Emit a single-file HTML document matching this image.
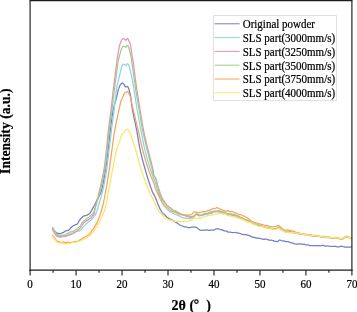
<!DOCTYPE html>
<html><head><meta charset="utf-8"><title>XRD</title>
<style>
html,body{margin:0;padding:0;background:#fff;}
body{width:357px;height:312px;overflow:hidden;}
svg{display:block;font-family:"Liberation Serif",serif;will-change:transform;}
</style></head><body>
<svg width="357" height="312" viewBox="0 0 357 312">
<rect x="0" y="0" width="357" height="312" fill="#ffffff"/>
<path d="M52.50,227.97 L52.82,228.43 L53.27,229.16 L53.80,230.00 L54.39,230.78 L55.00,231.46 L55.64,231.95 L56.34,232.38 L57.08,233.03 L57.84,233.42 L58.60,233.43 L59.39,233.53 L60.20,233.57 L61.03,233.36 L61.84,232.99 L62.60,232.71 L63.30,232.53 L63.97,232.14 L64.61,231.53 L65.24,231.03 L65.90,230.84 L66.75,230.53 L67.60,230.34 L68.45,230.29 L69.30,229.63 L69.85,228.99 L70.37,228.40 L70.90,227.80 L71.44,227.28 L72.00,226.68 L72.60,226.15 L73.28,225.80 L74.03,225.37 L74.80,225.03 L75.55,224.65 L76.23,224.38 L76.80,224.31 L77.37,224.01 L77.73,223.44 L78.05,222.77 L78.50,222.03 L78.92,221.44 L79.40,220.72 L79.92,219.91 L80.44,219.08 L80.94,218.42 L81.40,218.04 L81.99,217.46 L82.51,216.76 L83.02,216.24 L83.60,216.06 L84.27,215.83 L85.00,215.66 L85.73,215.65 L86.40,215.47 L87.21,214.96 L87.95,214.43 L88.60,214.07 L89.25,213.86 L90.00,213.07 L90.33,212.49 L90.70,211.86 L91.10,211.33 L91.53,210.69 L91.99,209.83 L92.48,208.89 L93.00,207.91 L93.32,207.32 L93.67,206.68 L94.03,206.01 L94.40,205.32 L94.79,204.55 L95.18,203.77 L95.58,203.03 L95.97,202.22 L96.37,201.37 L96.76,200.57 L97.13,199.79 L97.50,198.98 L97.89,198.17 L98.27,197.52 L98.65,196.90 L99.03,196.21 L99.40,195.50 L99.77,194.80 L100.14,194.06 L100.51,193.25 L100.87,192.34 L101.24,191.27 L101.60,190.02 L101.77,189.36 L101.95,188.67 L102.13,187.94 L102.31,187.17 L102.49,186.38 L102.66,185.57 L102.84,184.74 L103.02,183.87 L103.20,182.97 L103.38,182.06 L103.56,181.15 L103.73,180.22 L103.91,179.28 L104.08,178.33 L104.25,177.39 L104.42,176.44 L104.58,175.50 L104.74,174.56 L104.90,173.62 L105.06,172.69 L105.21,171.78 L105.36,170.88 L105.50,170.01 L105.64,169.13 L105.77,168.26 L105.91,167.39 L106.03,166.52 L106.16,165.65 L106.28,164.78 L106.40,163.92 L106.51,163.04 L106.63,162.17 L106.74,161.31 L106.85,160.44 L106.95,159.57 L107.06,158.70 L107.16,157.83 L107.27,156.96 L107.37,156.09 L107.48,155.22 L107.58,154.35 L107.68,153.48 L107.79,152.61 L107.89,151.74 L107.99,150.86 L108.10,149.99 L108.21,149.13 L108.31,148.25 L108.41,147.38 L108.51,146.51 L108.61,145.63 L108.71,144.76 L108.81,143.88 L108.91,143.00 L109.01,142.12 L109.10,141.25 L109.20,140.37 L109.30,139.50 L109.40,138.62 L109.49,137.75 L109.59,136.88 L109.69,136.01 L109.79,135.14 L109.89,134.28 L109.99,133.42 L110.09,132.56 L110.19,131.70 L110.29,130.85 L110.40,130.01 L110.51,129.11 L110.62,128.22 L110.73,127.33 L110.84,126.43 L110.95,125.53 L111.05,124.63 L111.16,123.73 L111.27,122.83 L111.38,121.94 L111.49,121.04 L111.61,120.16 L111.72,119.28 L111.84,118.41 L111.95,117.54 L112.07,116.69 L112.20,115.84 L112.32,115.00 L112.45,114.18 L112.58,113.36 L112.72,112.55 L112.86,111.77 L113.00,111.00 L113.20,110.02 L113.41,109.04 L113.63,108.07 L113.86,107.09 L114.10,106.11 L114.35,105.17 L114.60,104.26 L114.85,103.37 L115.10,102.49 L115.35,101.61 L115.59,100.77 L115.82,99.96 L116.05,99.16 L116.26,98.41 L116.46,97.72 L116.64,97.03 L116.80,96.40 L117.09,95.19 L117.34,94.11 L117.53,93.19 L117.69,92.40 L117.83,91.69 L117.96,91.07 L118.07,90.52 L118.20,90.01 L118.46,89.13 L118.65,88.76 L118.90,88.20 L119.16,87.45 L119.46,86.58 L119.80,85.72 L120.20,85.01 L120.70,84.37 L121.27,83.77 L121.86,83.23 L122.40,82.95 L123.03,83.25 L123.60,83.86 L124.10,84.53 L124.52,85.29 L124.88,86.13 L125.20,86.73 L125.59,86.89 L126.00,86.83 L126.58,86.62 L127.20,86.46 L127.78,86.78 L128.30,87.60 L128.59,88.31 L128.85,89.13 L129.10,90.00 L129.28,90.68 L129.46,91.39 L129.63,92.11 L129.80,92.83 L129.94,93.25 L130.07,93.42 L130.23,93.99 L130.50,95.50 L130.58,96.03 L130.66,96.63 L130.75,97.28 L130.84,97.99 L130.93,98.73 L131.03,99.52 L131.13,100.36 L131.23,101.22 L131.34,102.12 L131.46,103.04 L131.59,104.00 L131.72,104.97 L131.86,105.96 L132.00,106.96 L132.16,107.97 L132.33,108.99 L132.50,110.00 L132.64,110.75 L132.78,111.54 L132.93,112.35 L133.09,113.16 L133.26,113.99 L133.43,114.82 L133.61,115.68 L133.79,116.56 L133.98,117.43 L134.16,118.31 L134.35,119.21 L134.55,120.11 L134.74,121.01 L134.93,121.93 L135.13,122.84 L135.32,123.74 L135.51,124.64 L135.70,125.56 L135.89,126.46 L136.07,127.35 L136.25,128.23 L136.43,129.11 L136.60,130.00 L136.77,130.86 L136.93,131.72 L137.08,132.59 L137.24,133.47 L137.39,134.35 L137.54,135.22 L137.68,136.09 L137.83,136.95 L137.98,137.82 L138.12,138.70 L138.26,139.57 L138.41,140.44 L138.56,141.31 L138.71,142.17 L138.86,143.04 L139.01,143.92 L139.17,144.80 L139.33,145.66 L139.49,146.53 L139.66,147.39 L139.83,148.26 L140.01,149.12 L140.20,149.99 L140.39,150.88 L140.59,151.77 L140.80,152.66 L141.01,153.57 L141.23,154.48 L141.45,155.38 L141.68,156.29 L141.91,157.21 L142.14,158.14 L142.37,159.08 L142.61,159.99 L142.84,160.88 L143.08,161.79 L143.31,162.71 L143.55,163.57 L143.78,164.42 L144.01,165.28 L144.24,166.13 L144.46,166.94 L144.68,167.72 L144.89,168.50 L145.10,169.27 L145.30,169.99 L145.58,171.01 L145.87,172.02 L146.15,173.00 L146.43,173.93 L146.71,174.84 L146.98,175.74 L147.25,176.58 L147.51,177.41 L147.77,178.23 L148.02,179.00 L148.26,179.75 L148.49,180.45 L148.71,181.14 L148.92,181.82 L149.12,182.44 L149.30,182.99 L149.71,184.26 L150.03,185.23 L150.28,185.97 L150.50,186.61 L150.73,187.27 L151.00,188.04 L151.31,188.90 L151.64,189.81 L151.98,190.76 L152.30,191.63 L152.62,192.33 L152.90,192.91 L153.34,193.71 L153.72,194.16 L154.20,194.91 L154.47,195.52 L154.77,196.19 L155.10,196.92 L155.43,197.72 L155.77,198.51 L156.09,199.26 L156.40,199.99 L156.72,200.81 L157.03,201.62 L157.32,202.46 L157.62,203.29 L157.94,204.10 L158.30,204.94 L158.64,205.75 L159.01,206.58 L159.40,207.47 L159.79,208.37 L160.20,209.14 L160.60,209.82 L161.00,210.53 L161.44,211.33 L161.84,211.97 L162.26,212.55 L162.70,213.11 L163.20,213.60 L163.80,214.13 L164.31,214.48 L164.88,214.86 L165.48,215.53 L166.11,216.31 L166.77,216.97 L167.44,217.54 L168.12,218.05 L168.80,218.56 L169.49,218.97 L170.19,219.19 L170.92,219.39 L171.65,219.74 L172.39,220.26 L173.13,220.67 L173.87,221.09 L174.60,221.61 L175.32,221.97 L176.05,222.35 L176.78,222.77 L177.50,223.21 L178.22,223.81 L178.95,224.28 L179.68,224.69 L180.40,225.22 L181.25,225.63 L182.12,225.94 L182.99,226.28 L183.85,226.71 L184.69,226.93 L185.48,226.75 L186.20,226.77 L187.08,227.26 L187.84,227.62 L188.55,227.62 L189.25,227.66 L190.00,227.59 L190.84,227.26 L191.73,227.17 L192.62,227.22 L193.46,227.22 L194.20,227.10 L195.13,227.04 L195.86,227.20 L196.70,227.57 L197.27,228.04 L197.84,228.57 L198.46,229.07 L199.19,229.61 L200.10,230.08 L200.78,230.21 L201.54,230.28 L202.37,230.22 L203.24,230.09 L204.14,230.16 L205.05,230.19 L205.94,230.07 L206.80,229.92 L207.65,229.97 L208.51,230.32 L209.38,230.42 L210.25,230.16 L211.10,230.06 L211.94,230.12 L212.74,230.19 L213.50,230.24 L214.44,229.84 L215.32,229.22 L216.16,228.99 L216.97,228.95 L217.77,228.86 L218.60,228.81 L219.42,229.00 L220.21,229.55 L221.00,229.76 L221.81,229.66 L222.67,230.05 L223.60,230.63 L224.36,230.81 L225.15,230.88 L225.98,230.96 L226.84,231.31 L227.71,231.88 L228.58,232.21 L229.45,232.18 L230.30,232.17 L231.15,232.33 L232.00,232.50 L232.85,232.61 L233.70,232.56 L234.55,232.50 L235.40,232.49 L236.25,232.57 L237.10,232.94 L237.95,233.13 L238.79,233.09 L239.64,233.26 L240.49,233.57 L241.33,234.01 L242.16,234.30 L242.99,234.42 L243.80,234.61 L244.63,234.63 L245.49,234.64 L246.36,234.82 L247.21,235.03 L248.03,235.22 L248.78,235.36 L249.44,235.53 L250.00,235.84 L250.71,236.21 L250.93,236.41 L251.70,236.70 L252.30,237.16 L253.02,237.48 L253.84,237.38 L254.73,237.39 L255.66,237.85 L256.60,238.08 L257.52,237.98 L258.40,238.20 L259.25,238.37 L260.10,238.49 L260.95,238.67 L261.80,238.76 L262.65,239.12 L263.50,239.48 L264.35,239.42 L265.20,239.21 L266.05,239.15 L266.92,239.25 L267.79,239.64 L268.66,240.16 L269.52,240.20 L270.35,240.02 L271.14,240.07 L271.90,240.28 L272.86,240.55 L273.78,240.94 L274.66,241.38 L275.47,241.41 L276.23,241.41 L276.90,241.71 L277.70,241.62 L278.31,240.97 L278.86,240.31 L279.50,240.01 L280.21,240.18 L280.94,240.50 L281.78,240.78 L282.80,240.86 L283.51,240.95 L284.32,241.17 L285.19,241.39 L286.10,241.71 L287.00,241.73 L287.88,241.63 L288.70,241.82 L289.58,242.14 L290.43,242.57 L291.25,242.91 L292.06,242.91 L292.87,243.10 L293.70,243.58 L294.55,243.84 L295.40,243.95 L296.26,244.01 L297.11,244.02 L297.96,244.01 L298.80,243.92 L299.61,243.92 L300.38,243.87 L301.15,243.95 L301.94,244.28 L302.78,244.29 L303.70,244.01 L304.45,244.16 L305.25,244.65 L306.08,244.88 L306.93,244.82 L307.80,244.77 L308.68,245.06 L309.55,245.57 L310.40,245.68 L311.25,245.62 L312.10,245.70 L312.95,245.74 L313.80,245.67 L314.65,245.60 L315.50,245.67 L316.35,245.77 L317.20,245.77 L318.04,245.55 L318.88,245.51 L319.72,245.78 L320.56,245.88 L321.39,245.65 L322.23,245.45 L323.06,245.45 L323.90,245.67 L324.74,246.01 L325.57,246.12 L326.41,246.08 L327.25,245.93 L328.09,245.92 L328.93,246.26 L329.76,246.48 L330.60,246.34 L331.44,246.31 L332.27,246.38 L333.11,246.39 L333.94,246.40 L334.78,246.28 L335.62,246.31 L336.46,246.59 L337.30,246.88 L338.14,246.99 L338.98,246.82 L339.81,246.62 L340.65,246.42 L341.49,246.23 L342.35,246.41 L343.22,246.70 L344.10,246.83 L344.94,247.13 L345.86,247.24 L346.83,247.14 L347.80,247.21 L348.74,247.20 L349.63,247.11 L350.42,247.05 L351.09,246.97 L351.60,246.82" fill="none" stroke="#757DC6" stroke-width="1.25" stroke-linejoin="round" stroke-linecap="round"/>
<path d="M52.50,227.31 L52.73,227.75 L53.02,228.38 L53.37,229.15 L53.77,229.96 L54.19,230.80 L54.63,231.66 L55.07,232.39 L55.50,232.96 L56.05,233.75 L56.61,234.46 L57.19,235.02 L57.80,235.50 L58.47,235.94 L59.20,236.41 L59.90,236.52 L60.66,236.54 L61.47,236.61 L62.30,236.43 L63.14,236.15 L63.98,235.80 L64.80,235.50 L65.60,235.32 L66.40,235.34 L67.20,235.32 L68.00,235.07 L68.80,234.68 L69.60,234.15 L70.40,233.75 L71.21,233.58 L72.03,233.38 L72.86,233.01 L73.68,232.60 L74.48,232.23 L75.26,231.83 L76.00,231.59 L76.83,231.40 L77.62,231.07 L78.38,231.00 L79.11,231.00 L79.82,230.65 L80.50,230.16 L81.14,229.66 L81.73,229.02 L82.29,228.17 L82.85,227.39 L83.41,226.81 L84.00,226.30 L84.62,225.64 L85.27,224.83 L85.92,224.13 L86.57,223.59 L87.20,223.02 L87.80,222.36 L88.47,221.70 L89.10,221.35 L89.72,221.17 L90.31,220.84 L90.90,220.31 L91.49,219.61 L92.07,218.89 L92.64,218.22 L93.18,217.53 L93.70,216.88 L94.18,216.28 L94.64,215.62 L95.07,215.03 L95.49,214.43 L95.90,213.62 L96.16,212.97 L96.37,212.45 L96.57,211.99 L96.78,211.41 L97.03,210.59 L97.36,209.46 L97.80,207.98 L97.98,207.41 L98.17,206.78 L98.37,206.08 L98.59,205.36 L98.82,204.60 L99.06,203.80 L99.31,202.97 L99.57,202.13 L99.84,201.25 L100.10,200.35 L100.37,199.45 L100.64,198.51 L100.92,197.55 L101.19,196.61 L101.45,195.66 L101.71,194.70 L101.97,193.75 L102.22,192.80 L102.46,191.85 L102.68,190.91 L102.90,190.00 L103.09,189.19 L103.28,188.36 L103.46,187.51 L103.64,186.65 L103.82,185.78 L104.00,184.91 L104.17,184.06 L104.34,183.19 L104.51,182.31 L104.67,181.43 L104.83,180.55 L104.99,179.68 L105.15,178.80 L105.30,177.91 L105.46,177.03 L105.61,176.16 L105.76,175.27 L105.90,174.38 L106.05,173.49 L106.19,172.61 L106.33,171.74 L106.46,170.87 L106.60,170.00 L106.73,169.13 L106.86,168.26 L106.99,167.39 L107.11,166.52 L107.23,165.65 L107.34,164.78 L107.45,163.91 L107.56,163.04 L107.67,162.17 L107.78,161.30 L107.88,160.43 L107.98,159.57 L108.08,158.70 L108.18,157.83 L108.29,156.96 L108.39,156.09 L108.49,155.22 L108.59,154.35 L108.69,153.47 L108.79,152.61 L108.89,151.74 L108.99,150.87 L109.10,150.00 L109.21,149.13 L109.31,148.26 L109.42,147.39 L109.52,146.51 L109.63,145.64 L109.73,144.76 L109.83,143.88 L109.94,143.01 L110.04,142.13 L110.15,141.25 L110.25,140.37 L110.35,139.50 L110.45,138.62 L110.56,137.75 L110.66,136.88 L110.77,136.01 L110.87,135.14 L110.97,134.28 L111.08,133.42 L111.18,132.56 L111.29,131.70 L111.39,130.85 L111.50,130.00 L111.61,129.12 L111.72,128.24 L111.84,127.37 L111.95,126.51 L112.06,125.65 L112.18,124.80 L112.29,123.95 L112.41,123.10 L112.52,122.26 L112.64,121.41 L112.75,120.57 L112.86,119.72 L112.98,118.86 L113.09,118.01 L113.21,117.16 L113.32,116.30 L113.44,115.43 L113.55,114.56 L113.66,113.69 L113.78,112.80 L113.89,111.90 L114.00,111.00 L114.10,110.15 L114.20,109.28 L114.31,108.39 L114.41,107.48 L114.51,106.56 L114.62,105.62 L114.72,104.68 L114.82,103.73 L114.92,102.77 L115.03,101.81 L115.13,100.86 L115.23,99.91 L115.33,98.97 L115.43,98.04 L115.53,97.13 L115.63,96.23 L115.73,95.35 L115.83,94.49 L115.93,93.66 L116.02,92.86 L116.12,92.09 L116.21,91.35 L116.31,90.66 L116.40,90.00 L116.59,88.70 L116.78,87.56 L116.96,86.57 L117.14,85.69 L117.31,84.91 L117.48,84.18 L117.65,83.46 L117.83,82.76 L118.01,82.04 L118.20,81.26 L118.40,80.39 L118.60,79.54 L118.81,78.65 L119.03,77.71 L119.25,76.75 L119.48,75.78 L119.71,74.83 L119.94,73.90 L120.16,73.03 L120.37,72.17 L120.56,71.35 L120.74,70.64 L120.90,70.02 L121.18,68.81 L121.37,67.98 L121.52,67.37 L121.68,66.85 L121.90,66.31 L122.26,65.51 L122.67,64.74 L123.12,64.23 L123.60,64.08 L124.31,64.49 L125.09,65.24 L125.80,65.47 L126.41,64.73 L126.96,63.96 L127.50,63.77 L127.92,63.96 L128.34,64.50 L128.74,65.28 L129.10,66.14 L129.33,66.85 L129.53,67.55 L129.71,68.29 L129.89,69.10 L130.10,69.99 L130.27,70.67 L130.44,71.38 L130.62,72.13 L130.81,72.93 L131.00,73.74 L131.20,74.59 L131.40,75.50 L131.57,76.26 L131.74,77.05 L131.93,77.88 L132.12,78.74 L132.31,79.60 L132.49,80.46 L132.67,81.31 L132.84,82.17 L133.00,83.00 L133.15,83.81 L133.26,84.47 L133.36,85.09 L133.46,85.72 L133.56,86.44 L133.70,87.35 L133.87,88.51 L134.10,90.00 L134.19,90.61 L134.30,91.28 L134.40,91.97 L134.51,92.70 L134.63,93.48 L134.75,94.29 L134.88,95.13 L135.01,96.00 L135.14,96.89 L135.28,97.79 L135.42,98.71 L135.56,99.66 L135.70,100.62 L135.85,101.58 L136.00,102.53 L136.15,103.50 L136.30,104.46 L136.45,105.41 L136.60,106.35 L136.75,107.29 L136.90,108.22 L137.05,109.12 L137.20,110.01 L137.35,110.88 L137.50,111.75 L137.65,112.61 L137.80,113.47 L137.96,114.34 L138.11,115.21 L138.27,116.09 L138.43,116.96 L138.59,117.83 L138.75,118.70 L138.91,119.57 L139.08,120.43 L139.24,121.30 L139.40,122.19 L139.57,123.05 L139.73,123.91 L139.90,124.77 L140.06,125.65 L140.23,126.52 L140.40,127.40 L140.57,128.27 L140.73,129.14 L140.90,130.01 L141.07,130.88 L141.23,131.75 L141.39,132.61 L141.56,133.47 L141.72,134.34 L141.88,135.22 L142.04,136.10 L142.20,136.96 L142.36,137.82 L142.53,138.70 L142.69,139.57 L142.86,140.44 L143.03,141.31 L143.20,142.19 L143.37,143.05 L143.55,143.91 L143.73,144.79 L143.91,145.66 L144.10,146.53 L144.29,147.41 L144.49,148.28 L144.69,149.14 L144.90,150.00 L145.11,150.83 L145.32,151.69 L145.54,152.56 L145.76,153.41 L145.99,154.28 L146.23,155.15 L146.47,156.03 L146.71,156.92 L146.95,157.81 L147.20,158.68 L147.45,159.57 L147.70,160.46 L147.95,161.33 L148.20,162.18 L148.45,163.02 L148.70,163.84 L148.95,164.67 L149.20,165.52 L149.44,166.34 L149.68,167.12 L149.92,167.88 L150.15,168.60 L150.38,169.28 L150.60,169.98 L150.93,171.02 L151.27,172.05 L151.60,173.02 L151.94,173.93 L152.28,174.85 L152.62,175.75 L152.95,176.59 L153.27,177.41 L153.58,178.23 L153.89,179.02 L154.18,179.77 L154.46,180.49 L154.72,181.18 L154.97,181.84 L155.20,182.45 L155.40,182.99 L155.82,184.27 L156.09,185.22 L156.26,185.93 L156.40,186.54 L156.56,187.20 L156.80,187.99 L157.03,188.68 L157.28,189.42 L157.55,190.20 L157.82,190.95 L158.11,191.69 L158.40,192.49 L158.70,193.27 L159.00,193.97 L159.30,194.71 L159.61,195.50 L159.93,196.27 L160.26,197.04 L160.59,197.81 L160.92,198.54 L161.26,199.28 L161.60,200.03 L162.00,200.89 L162.41,201.76 L162.83,202.57 L163.26,203.31 L163.68,204.10 L164.09,204.91 L164.50,205.59 L164.95,206.28 L165.39,206.96 L165.82,207.66 L166.26,208.27 L166.71,208.82 L167.20,209.35 L167.85,210.06 L168.57,210.69 L169.29,211.15 L169.99,211.67 L170.60,212.16 L171.39,212.53 L172.04,212.76 L172.80,213.07 L173.46,213.39 L174.14,213.74 L174.96,214.04 L176.00,214.61 L176.64,214.90 L177.37,215.06 L178.16,215.46 L178.99,215.86 L179.84,216.22 L180.69,216.70 L181.52,217.20 L182.30,217.67 L183.16,217.90 L184.02,217.86 L184.87,218.06 L185.71,218.47 L186.53,218.46 L187.33,218.27 L188.10,218.50 L188.97,218.68 L189.81,218.59 L190.62,218.22 L191.41,217.87 L192.17,217.82 L192.90,217.67 L193.61,217.03 L194.29,216.36 L194.94,215.87 L195.57,215.27 L196.15,214.72 L196.70,214.35 L197.38,214.50 L197.93,215.17 L198.49,215.71 L199.20,216.00 L199.92,216.01 L200.71,215.66 L201.57,215.22 L202.48,215.04 L203.40,215.02 L204.18,214.84 L204.97,214.55 L205.79,214.40 L206.65,214.34 L207.55,214.27 L208.50,213.97 L209.27,213.47 L210.10,213.24 L210.97,213.31 L211.85,213.23 L212.73,212.69 L213.60,212.01 L214.43,211.61 L215.20,211.48 L216.14,211.74 L217.02,211.90 L217.86,211.80 L218.67,211.92 L219.47,212.08 L220.30,212.15 L221.12,212.37 L221.91,212.61 L222.70,212.83 L223.51,213.11 L224.37,213.28 L225.30,213.49 L226.06,213.89 L226.86,214.18 L227.69,214.33 L228.54,214.63 L229.41,214.76 L230.29,214.72 L231.15,214.92 L232.00,215.14 L232.84,215.34 L233.67,215.60 L234.51,215.72 L235.34,215.93 L236.18,216.29 L237.02,216.57 L237.86,216.97 L238.70,217.33 L239.46,217.41 L240.25,217.55 L241.04,217.89 L241.84,218.47 L242.63,219.08 L243.40,219.40 L244.14,219.54 L244.84,219.91 L245.50,220.36 L246.42,220.73 L247.27,220.97 L248.07,221.21 L248.79,221.65 L249.44,221.97 L250.00,221.98 L250.59,222.18 L250.87,222.49 L251.70,223.03 L252.30,223.30 L253.02,223.56 L253.84,223.88 L254.73,224.39 L255.66,224.71 L256.60,224.68 L257.52,224.82 L258.40,225.19 L259.25,225.47 L260.10,225.77 L260.95,226.23 L261.80,226.50 L262.65,226.55 L263.50,226.70 L264.35,226.99 L265.20,227.27 L266.06,227.42 L266.96,227.58 L267.86,227.77 L268.76,227.98 L269.63,228.10 L270.46,228.01 L271.22,228.19 L271.90,228.62 L272.98,228.98 L273.81,229.28 L274.53,229.49 L275.30,229.46 L275.96,229.34 L276.62,228.86 L277.28,228.25 L277.94,228.05 L278.60,228.20 L279.28,228.05 L279.96,228.27 L280.64,229.01 L281.32,229.60 L282.00,229.97 L282.64,230.42 L283.24,230.80 L283.86,231.20 L284.53,231.55 L285.30,231.77 L286.03,231.90 L286.81,231.89 L287.64,231.93 L288.51,231.96 L289.44,232.19 L290.40,232.53 L291.16,232.40 L291.96,232.26 L292.80,232.42 L293.66,232.62 L294.52,232.88 L295.39,233.13 L296.26,233.28 L297.10,233.38 L297.93,233.50 L298.75,233.81 L299.58,233.99 L300.40,233.95 L301.22,234.05 L302.05,234.35 L302.87,234.69 L303.70,234.73 L304.53,234.60 L305.37,234.56 L306.20,234.52 L307.04,234.67 L307.88,235.05 L308.72,235.38 L309.56,235.49 L310.40,235.31 L311.25,235.28 L312.10,235.54 L312.95,235.75 L313.80,235.88 L314.65,236.03 L315.50,236.20 L316.35,236.35 L317.20,236.36 L318.04,236.38 L318.88,236.49 L319.72,236.50 L320.56,236.73 L321.39,237.05 L322.23,236.92 L323.06,236.85 L323.90,237.24 L324.74,237.51 L325.57,237.53 L326.41,237.51 L327.25,237.53 L328.09,237.52 L328.93,237.69 L329.76,237.98 L330.60,237.93 L331.45,237.83 L332.31,238.10 L333.18,238.49 L334.05,238.47 L334.90,238.25 L335.74,238.30 L336.54,238.51 L337.30,238.46 L338.25,238.36 L339.15,238.59 L340.01,238.67 L340.83,238.58 L341.62,238.71 L342.40,238.95 L343.14,238.84 L343.84,238.33 L344.51,237.79 L345.17,237.35 L345.86,237.19 L346.60,237.06 L347.44,236.88 L348.39,237.24 L349.36,237.69 L350.27,237.90 L351.05,238.33 L351.60,238.76" fill="none" stroke="#8CD3F2" stroke-width="1.25" stroke-linejoin="round" stroke-linecap="round"/>
<path d="M52.50,229.52 L52.77,230.01 L53.12,230.72 L53.54,231.48 L54.01,232.28 L54.50,233.15 L55.01,233.96 L55.50,234.64 L56.05,235.28 L56.61,235.80 L57.19,236.19 L57.80,236.37 L58.47,236.57 L59.20,236.89 L59.90,237.20 L60.66,237.21 L61.47,236.86 L62.30,236.62 L63.14,236.35 L63.98,236.26 L64.80,236.42 L65.60,236.38 L66.40,236.28 L67.20,235.94 L68.00,235.25 L68.80,234.99 L69.60,235.05 L70.40,234.61 L71.21,234.12 L72.03,233.95 L72.86,233.58 L73.68,233.05 L74.48,232.66 L75.26,232.29 L76.00,231.86 L76.71,231.34 L77.39,230.69 L78.05,230.08 L78.69,229.52 L79.30,228.92 L79.91,228.25 L80.50,227.52 L81.06,226.76 L81.58,226.05 L82.07,225.33 L82.57,224.53 L83.07,223.77 L83.61,223.09 L84.20,222.52 L84.87,221.95 L85.60,221.25 L86.37,220.69 L87.14,220.34 L87.89,220.10 L88.59,219.57 L89.20,218.96 L89.91,218.53 L90.51,218.19 L91.03,217.72 L91.51,217.08 L92.00,216.38 L92.62,215.79 L93.21,215.27 L93.75,214.49 L94.20,213.57 L94.38,213.04 L94.47,212.56 L94.53,212.05 L94.60,211.42 L94.70,210.59 L94.89,209.48 L95.20,208.02 L95.34,207.43 L95.49,206.78 L95.65,206.09 L95.83,205.37 L96.01,204.62 L96.21,203.81 L96.42,202.97 L96.63,202.13 L96.85,201.26 L97.08,200.37 L97.31,199.45 L97.54,198.50 L97.78,197.55 L98.01,196.59 L98.25,195.64 L98.49,194.69 L98.72,193.74 L98.95,192.78 L99.17,191.82 L99.39,190.90 L99.60,190.00 L99.79,189.17 L99.98,188.34 L100.18,187.50 L100.38,186.64 L100.57,185.78 L100.77,184.92 L100.97,184.05 L101.17,183.19 L101.37,182.32 L101.57,181.44 L101.77,180.56 L101.97,179.68 L102.16,178.79 L102.35,177.91 L102.54,177.02 L102.73,176.13 L102.91,175.26 L103.09,174.38 L103.26,173.49 L103.43,172.61 L103.59,171.75 L103.75,170.88 L103.90,170.01 L104.04,169.13 L104.18,168.26 L104.32,167.39 L104.45,166.52 L104.57,165.66 L104.69,164.79 L104.81,163.91 L104.92,163.04 L105.03,162.17 L105.14,161.30 L105.24,160.44 L105.34,159.57 L105.44,158.69 L105.54,157.82 L105.64,156.96 L105.73,156.09 L105.83,155.22 L105.92,154.35 L106.02,153.48 L106.11,152.61 L106.21,151.74 L106.30,150.87 L106.40,150.00 L106.50,149.13 L106.59,148.26 L106.68,147.38 L106.77,146.51 L106.86,145.63 L106.94,144.76 L107.03,143.88 L107.11,143.01 L107.20,142.13 L107.28,141.25 L107.36,140.38 L107.44,139.50 L107.52,138.63 L107.60,137.75 L107.69,136.88 L107.77,136.01 L107.86,135.15 L107.94,134.28 L108.03,133.43 L108.12,132.57 L108.21,131.70 L108.30,130.85 L108.40,130.00 L108.50,129.12 L108.61,128.25 L108.72,127.37 L108.83,126.51 L108.94,125.65 L109.05,124.79 L109.16,123.94 L109.28,123.10 L109.39,122.26 L109.51,121.41 L109.62,120.56 L109.74,119.72 L109.86,118.87 L109.98,118.01 L110.09,117.16 L110.21,116.30 L110.33,115.43 L110.44,114.56 L110.56,113.68 L110.67,112.80 L110.79,111.90 L110.90,111.00 L111.00,110.17 L111.10,109.32 L111.20,108.47 L111.30,107.61 L111.40,106.74 L111.50,105.87 L111.60,104.99 L111.70,104.12 L111.80,103.23 L111.90,102.34 L112.00,101.45 L112.10,100.56 L112.20,99.67 L112.30,98.78 L112.40,97.89 L112.50,97.00 L112.60,96.11 L112.70,95.23 L112.80,94.35 L112.90,93.47 L113.00,92.59 L113.10,91.73 L113.20,90.86 L113.30,90.00 L113.41,89.09 L113.52,88.17 L113.63,87.24 L113.75,86.29 L113.87,85.33 L113.99,84.37 L114.11,83.40 L114.23,82.43 L114.35,81.47 L114.47,80.51 L114.59,79.56 L114.71,78.62 L114.83,77.70 L114.94,76.79 L115.05,75.91 L115.16,75.05 L115.27,74.23 L115.37,73.43 L115.46,72.66 L115.56,71.93 L115.64,71.24 L115.73,70.59 L115.80,70.00 L115.98,68.58 L116.10,67.55 L116.19,66.81 L116.26,66.24 L116.32,65.75 L116.38,65.21 L116.47,64.53 L116.60,63.60 L116.70,62.89 L116.81,62.10 L116.92,61.26 L117.04,60.38 L117.17,59.46 L117.30,58.52 L117.44,57.58 L117.57,56.64 L117.70,55.72 L117.83,54.84 L117.96,53.99 L118.08,53.22 L118.20,52.50 L118.38,51.44 L118.55,50.48 L118.72,49.60 L118.88,48.78 L119.04,48.01 L119.20,47.30 L119.35,46.63 L119.50,46.00 L119.73,45.09 L119.94,44.34 L120.15,43.70 L120.36,43.11 L120.60,42.50 L120.92,41.70 L121.27,40.94 L121.63,40.27 L122.00,39.71 L122.50,39.14 L123.01,38.87 L123.60,38.86 L124.12,38.93 L124.69,39.37 L125.27,39.92 L125.80,40.36 L126.40,39.80 L126.95,38.86 L127.50,38.38 L127.93,38.86 L128.38,39.69 L128.80,40.59 L129.20,41.43 L129.49,42.06 L129.76,42.65 L130.02,43.27 L130.27,44.06 L130.50,45.00 L130.63,45.67 L130.75,46.40 L130.86,47.17 L130.96,48.00 L131.07,48.89 L131.19,49.85 L131.33,50.89 L131.50,52.01 L131.61,52.70 L131.73,53.46 L131.87,54.28 L132.01,55.13 L132.16,56.02 L132.31,56.93 L132.46,57.84 L132.62,58.75 L132.77,59.66 L132.91,60.53 L133.05,61.37 L133.18,62.17 L133.30,62.91 L133.40,63.59 L133.54,64.56 L133.63,65.26 L133.70,65.79 L133.75,66.27 L133.81,66.83 L133.89,67.57 L134.02,68.59 L134.20,70.00 L134.28,70.60 L134.36,71.25 L134.45,71.94 L134.55,72.66 L134.65,73.44 L134.76,74.25 L134.87,75.08 L134.98,75.95 L135.10,76.84 L135.22,77.75 L135.34,78.68 L135.46,79.63 L135.59,80.58 L135.72,81.54 L135.85,82.51 L135.98,83.49 L136.11,84.45 L136.24,85.41 L136.38,86.35 L136.51,87.29 L136.64,88.21 L136.77,89.12 L136.90,90.00 L137.03,90.86 L137.16,91.73 L137.29,92.60 L137.42,93.48 L137.56,94.36 L137.69,95.22 L137.83,96.08 L137.97,96.95 L138.11,97.82 L138.25,98.69 L138.39,99.56 L138.53,100.43 L138.67,101.30 L138.81,102.18 L138.95,103.04 L139.10,103.92 L139.24,104.79 L139.38,105.66 L139.53,106.52 L139.67,107.39 L139.81,108.26 L139.96,109.13 L140.10,110.00 L140.24,110.86 L140.38,111.74 L140.52,112.61 L140.66,113.48 L140.80,114.35 L140.94,115.22 L141.08,116.08 L141.22,116.96 L141.36,117.82 L141.50,118.69 L141.64,119.56 L141.78,120.43 L141.93,121.30 L142.07,122.18 L142.22,123.05 L142.37,123.92 L142.52,124.78 L142.68,125.65 L142.83,126.51 L143.00,127.37 L143.16,128.24 L143.33,129.12 L143.50,130.00 L143.68,130.87 L143.86,131.74 L144.04,132.61 L144.23,133.47 L144.42,134.35 L144.61,135.23 L144.81,136.12 L145.00,137.00 L145.20,137.87 L145.41,138.75 L145.61,139.63 L145.82,140.51 L146.02,141.38 L146.23,142.24 L146.44,143.10 L146.65,143.99 L146.86,144.87 L147.06,145.73 L147.27,146.59 L147.48,147.44 L147.69,148.30 L147.89,149.15 L148.10,150.00 L148.32,150.91 L148.54,151.84 L148.78,152.77 L149.01,153.71 L149.26,154.65 L149.50,155.60 L149.75,156.57 L149.99,157.54 L150.24,158.50 L150.49,159.45 L150.73,160.39 L150.97,161.33 L151.21,162.23 L151.43,163.10 L151.65,163.96 L151.87,164.80 L152.07,165.60 L152.26,166.36 L152.44,167.09 L152.61,167.77 L152.76,168.38 L152.90,168.97 L153.22,170.53 L153.40,171.67 L153.49,172.49 L153.53,173.12 L153.56,173.64 L153.64,174.17 L153.80,174.79 L154.10,175.55 L154.46,176.23 L154.86,176.86 L155.27,177.44 L155.66,178.11 L156.00,178.96 L156.25,179.78 L156.47,180.61 L156.68,181.48 L156.88,182.39 L157.08,183.29 L157.28,184.17 L157.50,185.01 L157.77,185.90 L158.05,186.72 L158.33,187.52 L158.62,188.34 L158.91,189.17 L159.20,190.01 L159.45,190.76 L159.69,191.54 L159.93,192.37 L160.18,193.20 L160.44,193.99 L160.71,194.72 L161.00,195.46 L161.35,196.30 L161.71,197.03 L162.09,197.74 L162.49,198.49 L162.92,199.25 L163.40,200.01 L163.80,200.62 L164.23,201.31 L164.70,202.03 L165.18,202.76 L165.66,203.40 L166.13,204.06 L166.58,204.74 L167.00,205.21 L167.60,205.79 L168.15,206.25 L168.68,206.63 L169.21,207.03 L169.80,207.49 L170.44,207.95 L171.13,208.50 L171.83,209.26 L172.52,209.94 L173.20,210.33 L174.00,210.57 L174.76,210.74 L175.55,211.14 L176.40,211.60 L176.98,211.93 L177.54,212.37 L178.12,212.77 L178.76,213.13 L179.51,213.48 L180.40,213.90 L181.03,214.29 L181.75,214.66 L182.53,214.88 L183.35,215.02 L184.20,215.33 L185.05,215.63 L185.89,215.91 L186.69,216.43 L187.43,216.75 L188.10,216.76 L189.08,216.95 L189.95,217.21 L190.74,217.42 L191.48,217.58 L192.19,217.26 L192.90,216.84 L193.61,216.61 L194.29,216.08 L194.94,215.42 L195.57,214.86 L196.15,214.42 L196.70,214.28 L197.38,214.48 L197.93,214.89 L198.49,215.26 L199.20,215.32 L199.92,215.38 L200.71,215.42 L201.57,215.33 L202.48,214.92 L203.40,214.32 L204.18,214.06 L204.97,213.92 L205.79,213.72 L206.65,213.58 L207.55,213.35 L208.50,213.06 L209.27,212.89 L210.10,212.87 L210.97,212.88 L211.85,212.62 L212.73,212.04 L213.60,211.63 L214.43,211.50 L215.20,211.50 L216.14,211.50 L217.02,211.35 L217.86,211.20 L218.67,211.14 L219.47,211.31 L220.30,211.71 L221.12,211.96 L221.91,212.03 L222.70,212.12 L223.51,212.19 L224.37,212.47 L225.30,212.91 L226.06,213.27 L226.86,213.68 L227.69,213.82 L228.54,213.85 L229.41,214.10 L230.29,214.46 L231.15,214.90 L232.00,215.10 L232.84,215.12 L233.67,215.25 L234.51,215.43 L235.34,215.57 L236.18,215.77 L237.02,216.13 L237.86,216.45 L238.70,216.71 L239.46,216.98 L240.25,217.28 L241.04,217.82 L241.84,218.43 L242.63,218.56 L243.40,218.80 L244.14,219.42 L244.84,219.77 L245.50,219.73 L246.42,219.82 L247.27,220.12 L248.07,220.47 L248.79,220.81 L249.44,221.24 L250.00,221.68 L250.59,222.02 L250.87,222.29 L251.70,222.87 L252.30,223.32 L253.02,223.63 L253.84,223.73 L254.73,223.99 L255.66,224.60 L256.60,225.02 L257.52,225.28 L258.40,225.79 L259.25,226.04 L260.10,225.81 L260.95,225.71 L261.80,225.97 L262.65,226.35 L263.50,226.51 L264.35,226.75 L265.20,227.44 L266.06,227.72 L266.96,227.34 L267.86,227.28 L268.76,227.74 L269.63,228.28 L270.46,228.64 L271.22,228.73 L271.90,228.54 L272.98,228.66 L273.81,229.18 L274.53,229.48 L275.30,229.32 L275.96,229.05 L276.62,228.60 L277.28,227.99 L277.94,227.52 L278.60,227.41 L279.28,227.73 L279.96,228.31 L280.64,228.88 L281.32,229.45 L282.00,229.95 L282.64,230.38 L283.24,230.81 L283.86,231.13 L284.53,231.23 L285.30,231.32 L286.03,231.59 L286.81,231.66 L287.64,231.55 L288.51,231.53 L289.44,231.63 L290.40,231.92 L291.16,232.13 L291.96,232.51 L292.80,232.93 L293.66,232.91 L294.52,232.93 L295.39,233.09 L296.26,233.10 L297.10,233.24 L297.93,233.61 L298.75,233.56 L299.58,233.28 L300.40,233.54 L301.22,233.86 L302.05,234.10 L302.87,234.37 L303.70,234.46 L304.53,234.55 L305.37,234.56 L306.20,234.68 L307.04,234.87 L307.88,234.87 L308.72,234.87 L309.56,234.88 L310.40,235.09 L311.25,235.48 L312.10,235.54 L312.95,235.33 L313.80,235.60 L314.65,236.06 L315.50,235.91 L316.35,235.81 L317.20,236.02 L318.04,236.05 L318.88,236.22 L319.72,236.58 L320.56,236.70 L321.39,236.73 L322.23,236.87 L323.06,236.84 L323.90,236.82 L324.74,236.93 L325.57,237.09 L326.41,237.31 L327.25,237.37 L328.09,237.37 L328.93,237.49 L329.76,237.55 L330.60,237.61 L331.45,237.87 L332.31,238.12 L333.18,238.25 L334.05,238.44 L334.90,238.50 L335.74,238.25 L336.54,238.04 L337.30,238.11 L338.25,238.41 L339.15,238.77 L340.01,238.80 L340.83,238.62 L341.62,238.78 L342.40,239.04 L343.14,238.84 L343.84,238.22 L344.51,237.55 L345.17,236.99 L345.86,236.64 L346.60,236.52 L347.44,236.64 L348.39,236.91 L349.36,237.31 L350.27,237.91 L351.05,238.46 L351.60,238.73" fill="none" stroke="#EE8FB3" stroke-width="1.25" stroke-linejoin="round" stroke-linecap="round"/>
<path d="M52.50,227.92 L52.77,228.40 L53.12,228.97 L53.54,229.59 L54.01,230.33 L54.50,231.08 L55.01,231.80 L55.50,232.46 L56.05,233.15 L56.61,233.87 L57.19,234.48 L57.80,234.77 L58.47,234.94 L59.20,235.14 L59.90,235.31 L60.66,235.33 L61.47,235.21 L62.30,235.14 L63.14,235.06 L63.98,235.05 L64.80,235.03 L65.60,234.73 L66.40,234.09 L67.20,233.44 L68.00,233.08 L68.80,232.83 L69.60,232.39 L70.40,232.01 L71.21,231.78 L72.05,231.53 L72.88,231.43 L73.71,231.16 L74.52,230.57 L75.28,229.95 L76.00,229.42 L76.78,228.95 L77.51,228.39 L78.19,227.72 L78.84,227.24 L79.44,226.79 L80.00,226.09 L80.50,225.43 L80.93,224.82 L81.33,224.14 L81.70,223.44 L82.08,222.75 L82.50,222.16 L83.17,221.56 L83.85,220.98 L84.56,220.45 L85.30,220.07 L85.94,219.62 L86.61,219.03 L87.29,218.35 L87.96,217.78 L88.60,217.34 L89.21,216.89 L89.81,216.33 L90.38,215.66 L90.92,215.09 L91.40,214.63 L92.03,214.18 L92.54,213.78 L93.10,213.03 L93.35,212.66 L93.58,212.26 L93.81,211.78 L94.06,211.20 L94.36,210.45 L94.73,209.43 L95.20,208.00 L95.38,207.41 L95.58,206.76 L95.79,206.07 L96.01,205.37 L96.24,204.63 L96.49,203.86 L96.74,203.06 L97.00,202.22 L97.26,201.33 L97.53,200.42 L97.80,199.49 L98.07,198.55 L98.35,197.60 L98.62,196.63 L98.89,195.66 L99.16,194.72 L99.42,193.77 L99.68,192.82 L99.93,191.86 L100.17,190.91 L100.40,190.00 L100.61,189.18 L100.81,188.33 L101.02,187.47 L101.22,186.61 L101.43,185.75 L101.63,184.92 L101.83,184.08 L102.03,183.20 L102.23,182.31 L102.43,181.44 L102.62,180.56 L102.81,179.68 L103.00,178.79 L103.19,177.91 L103.37,177.03 L103.55,176.16 L103.73,175.28 L103.90,174.39 L104.07,173.50 L104.23,172.63 L104.39,171.75 L104.55,170.88 L104.70,170.01 L104.84,169.13 L104.98,168.26 L105.12,167.40 L105.25,166.53 L105.37,165.66 L105.49,164.79 L105.61,163.92 L105.72,163.05 L105.83,162.18 L105.93,161.31 L106.04,160.43 L106.14,159.56 L106.24,158.69 L106.33,157.82 L106.43,156.96 L106.53,156.09 L106.62,155.22 L106.72,154.35 L106.81,153.48 L106.91,152.61 L107.00,151.74 L107.10,150.87 L107.20,150.00 L107.30,149.13 L107.40,148.26 L107.49,147.38 L107.58,146.51 L107.68,145.63 L107.77,144.75 L107.86,143.88 L107.94,143.00 L108.03,142.13 L108.12,141.25 L108.21,140.37 L108.29,139.50 L108.38,138.63 L108.47,137.76 L108.56,136.88 L108.64,136.01 L108.73,135.15 L108.82,134.28 L108.92,133.42 L109.01,132.56 L109.10,131.70 L109.20,130.85 L109.30,130.00 L109.41,129.12 L109.51,128.24 L109.62,127.37 L109.73,126.51 L109.84,125.66 L109.95,124.80 L110.06,123.94 L110.18,123.10 L110.29,122.26 L110.40,121.41 L110.52,120.56 L110.63,119.71 L110.75,118.86 L110.87,118.01 L110.98,117.16 L111.10,116.30 L111.22,115.44 L111.33,114.57 L111.45,113.68 L111.57,112.79 L111.68,111.90 L111.80,111.00 L111.91,110.16 L112.01,109.32 L112.12,108.47 L112.23,107.60 L112.34,106.73 L112.44,105.86 L112.55,104.99 L112.66,104.11 L112.77,103.23 L112.88,102.34 L112.98,101.46 L113.09,100.57 L113.20,99.67 L113.31,98.78 L113.42,97.89 L113.53,97.00 L113.64,96.11 L113.75,95.22 L113.86,94.34 L113.97,93.46 L114.07,92.59 L114.18,91.72 L114.29,90.86 L114.40,90.00 L114.51,89.10 L114.63,88.17 L114.75,87.23 L114.88,86.28 L115.00,85.32 L115.13,84.34 L115.25,83.36 L115.38,82.38 L115.51,81.41 L115.63,80.45 L115.76,79.49 L115.88,78.54 L116.00,77.62 L116.12,76.70 L116.24,75.82 L116.35,74.97 L116.46,74.15 L116.56,73.35 L116.66,72.60 L116.75,71.88 L116.84,71.21 L116.92,70.58 L117.00,70.01 L117.23,68.27 L117.37,67.12 L117.47,66.37 L117.54,65.85 L117.61,65.35 L117.70,64.69 L117.82,63.79 L117.93,62.99 L118.05,62.19 L118.20,61.33 L118.40,60.31 L118.56,59.57 L118.75,58.74 L118.96,57.88 L119.18,56.99 L119.40,56.09 L119.64,55.20 L119.87,54.34 L120.10,53.51 L120.36,52.59 L120.64,51.69 L120.92,50.81 L121.20,49.94 L121.47,49.14 L121.74,48.45 L122.00,47.82 L122.53,46.74 L123.03,46.31 L123.60,46.33 L124.31,46.42 L125.08,47.00 L125.80,47.36 L126.27,46.89 L126.71,46.08 L127.12,45.40 L127.50,45.33 L127.83,45.50 L128.12,46.08 L128.40,46.91 L128.70,47.81 L128.96,48.54 L129.22,49.34 L129.49,50.18 L129.75,51.06 L130.00,51.98 L130.20,52.78 L130.39,53.60 L130.57,54.45 L130.76,55.34 L130.93,56.24 L131.10,57.19 L131.22,57.94 L131.34,58.72 L131.45,59.51 L131.56,60.32 L131.67,61.14 L131.78,61.97 L131.89,62.80 L132.00,63.60 L132.10,64.30 L132.18,64.88 L132.25,65.41 L132.33,65.95 L132.42,66.60 L132.53,67.45 L132.69,68.56 L132.90,70.00 L132.99,70.60 L133.08,71.24 L133.18,71.93 L133.28,72.67 L133.39,73.45 L133.50,74.25 L133.62,75.08 L133.74,75.95 L133.87,76.83 L134.00,77.74 L134.13,78.68 L134.26,79.63 L134.40,80.59 L134.54,81.54 L134.68,82.51 L134.82,83.48 L134.96,84.44 L135.10,85.40 L135.24,86.35 L135.38,87.30 L135.52,88.22 L135.66,89.12 L135.80,90.00 L135.94,90.87 L136.08,91.74 L136.22,92.60 L136.36,93.47 L136.51,94.34 L136.65,95.21 L136.80,96.09 L136.95,96.96 L137.09,97.83 L137.24,98.69 L137.39,99.57 L137.54,100.44 L137.70,101.31 L137.85,102.17 L138.00,103.05 L138.15,103.93 L138.30,104.79 L138.45,105.65 L138.60,106.51 L138.75,107.39 L138.90,108.27 L139.05,109.13 L139.20,110.00 L139.35,110.87 L139.49,111.75 L139.63,112.61 L139.78,113.48 L139.92,114.34 L140.06,115.22 L140.20,116.08 L140.34,116.95 L140.47,117.83 L140.61,118.70 L140.75,119.57 L140.90,120.44 L141.04,121.31 L141.18,122.18 L141.33,123.04 L141.48,123.91 L141.63,124.78 L141.78,125.65 L141.94,126.52 L142.10,127.40 L142.26,128.26 L142.43,129.12 L142.60,129.98 L142.78,130.87 L142.95,131.75 L143.14,132.62 L143.32,133.49 L143.51,134.35 L143.70,135.22 L143.90,136.08 L144.09,136.96 L144.29,137.83 L144.49,138.70 L144.69,139.56 L144.90,140.44 L145.10,141.31 L145.31,142.19 L145.52,143.05 L145.72,143.92 L145.93,144.78 L146.14,145.64 L146.36,146.51 L146.57,147.39 L146.78,148.26 L146.99,149.13 L147.20,150.02 L147.42,150.91 L147.64,151.81 L147.87,152.73 L148.11,153.68 L148.36,154.64 L148.61,155.60 L148.86,156.57 L149.11,157.56 L149.36,158.55 L149.62,159.54 L149.87,160.50 L150.12,161.45 L150.36,162.39 L150.60,163.30 L150.83,164.20 L151.06,165.08 L151.27,165.92 L151.47,166.70 L151.67,167.45 L151.85,168.15 L152.01,168.82 L152.17,169.44 L152.30,170.00 L152.65,171.65 L152.80,172.68 L152.83,173.28 L152.81,173.65 L152.84,173.97 L153.00,174.51 L153.37,175.27 L153.84,175.86 L154.36,176.50 L154.87,177.30 L155.30,178.08 L155.60,178.76 L155.86,179.55 L156.11,180.42 L156.34,181.29 L156.57,182.15 L156.80,182.99 L157.03,183.81 L157.26,184.60 L157.48,185.38 L157.71,186.17 L157.94,187.02 L158.20,187.98 L158.38,188.71 L158.55,189.48 L158.73,190.28 L158.92,191.10 L159.11,191.92 L159.31,192.74 L159.53,193.55 L159.75,194.32 L160.00,195.02 L160.34,195.80 L160.70,196.53 L161.08,197.25 L161.48,197.95 L161.90,198.61 L162.34,199.26 L162.80,200.04 L163.30,200.84 L163.84,201.61 L164.41,202.47 L164.99,203.27 L165.56,203.91 L166.10,204.52 L166.60,205.10 L167.36,205.80 L168.03,206.20 L168.68,206.63 L169.40,207.22 L170.04,207.76 L170.73,208.40 L171.43,208.96 L172.12,209.39 L172.80,209.85 L173.59,210.27 L174.34,210.61 L175.12,211.00 L176.00,211.33 L176.63,211.47 L177.26,211.74 L177.92,212.20 L178.64,212.59 L179.46,213.16 L180.40,213.97 L181.05,214.26 L181.78,214.17 L182.56,214.31 L183.38,214.74 L184.22,215.11 L185.07,215.33 L185.90,215.60 L186.69,216.14 L187.43,216.39 L188.10,216.16 L189.08,216.24 L189.95,216.58 L190.74,216.68 L191.48,216.52 L192.19,216.55 L192.90,216.45 L193.61,216.11 L194.29,215.58 L194.94,214.83 L195.57,214.18 L196.15,213.84 L196.70,213.76 L197.38,213.81 L197.93,214.31 L198.49,214.93 L199.20,215.14 L199.92,214.97 L200.71,214.80 L201.57,214.75 L202.48,214.51 L203.40,213.90 L204.18,213.57 L204.97,213.41 L205.79,213.32 L206.65,213.36 L207.55,213.17 L208.50,212.78 L209.27,212.36 L210.10,212.08 L210.97,211.95 L211.85,211.70 L212.73,211.48 L213.60,211.30 L214.43,210.96 L215.20,210.88 L216.14,211.00 L217.02,210.98 L217.86,210.88 L218.67,210.84 L219.47,210.92 L220.30,211.10 L221.12,211.45 L221.91,211.72 L222.70,211.99 L223.51,212.34 L224.37,212.48 L225.30,212.70 L226.06,213.08 L226.86,213.35 L227.69,213.52 L228.54,213.71 L229.41,213.84 L230.29,213.77 L231.15,213.74 L232.00,214.07 L232.84,214.40 L233.67,214.32 L234.51,214.33 L235.34,214.73 L236.18,215.25 L237.02,215.53 L237.86,215.72 L238.70,216.13 L239.46,216.55 L240.25,216.98 L241.04,217.28 L241.84,217.52 L242.63,217.93 L243.40,218.40 L244.14,218.84 L244.84,219.20 L245.50,219.52 L246.42,219.94 L247.27,220.24 L248.07,220.49 L248.79,220.64 L249.44,220.85 L250.00,221.20 L250.59,221.68 L250.87,222.20 L251.70,222.79 L252.30,222.96 L253.02,223.28 L253.84,223.50 L254.73,223.61 L255.66,224.11 L256.60,224.79 L257.52,224.85 L258.40,224.78 L259.25,225.26 L260.10,225.64 L260.95,225.92 L261.80,226.48 L262.65,226.74 L263.50,226.69 L264.35,226.73 L265.20,226.99 L266.06,227.29 L266.96,227.39 L267.86,227.47 L268.76,227.75 L269.63,228.05 L270.46,228.17 L271.22,228.26 L271.90,228.51 L272.98,228.89 L273.81,229.17 L274.53,229.20 L275.30,229.10 L275.96,229.06 L276.62,228.59 L277.28,227.91 L277.94,227.48 L278.60,227.35 L279.28,227.72 L279.96,228.34 L280.64,229.02 L281.32,229.67 L282.00,229.99 L282.64,230.21 L283.24,230.51 L283.86,230.88 L284.53,231.50 L285.30,231.87 L286.03,231.89 L286.81,231.83 L287.64,231.73 L288.51,231.73 L289.44,231.75 L290.40,231.91 L291.16,232.06 L291.96,232.24 L292.80,232.51 L293.66,232.62 L294.52,232.75 L295.39,232.77 L296.26,232.84 L297.10,233.20 L297.93,233.41 L298.75,233.48 L299.58,233.57 L300.40,233.71 L301.22,233.90 L302.05,234.02 L302.87,234.25 L303.70,234.39 L304.53,234.26 L305.37,234.29 L306.20,234.44 L307.04,234.47 L307.88,234.56 L308.72,234.85 L309.56,235.10 L310.40,235.06 L311.25,235.09 L312.10,235.45 L312.95,235.70 L313.80,235.60 L314.65,235.47 L315.50,235.74 L316.35,236.32 L317.20,236.51 L318.04,236.25 L318.88,236.19 L319.72,236.45 L320.56,236.68 L321.39,236.75 L322.23,236.68 L323.06,236.71 L323.90,236.87 L324.74,236.97 L325.57,237.06 L326.41,237.22 L327.25,237.21 L328.09,237.25 L328.93,237.54 L329.76,237.51 L330.60,237.35 L331.45,237.60 L332.31,237.89 L333.18,238.15 L334.05,238.30 L334.90,238.11 L335.74,237.89 L336.54,237.73 L337.30,237.75 L338.25,238.05 L339.15,238.30 L340.01,238.50 L340.83,238.71 L341.62,238.84 L342.40,238.72 L343.14,238.38 L343.84,237.96 L344.51,237.52 L345.17,237.22 L345.86,236.98 L346.60,236.47 L347.44,236.27 L348.39,237.02 L349.36,237.88 L350.27,238.06 L351.05,238.18 L351.60,238.47" fill="none" stroke="#9CCF83" stroke-width="1.25" stroke-linejoin="round" stroke-linecap="round"/>
<path d="M52.50,235.28 L52.85,235.71 L53.31,236.26 L53.86,236.98 L54.48,237.82 L55.12,238.68 L55.78,239.60 L56.41,240.45 L57.00,240.96 L57.69,241.22 L58.30,241.33 L58.92,241.56 L59.60,241.97 L60.40,242.28 L61.40,242.41 L62.05,242.29 L62.79,241.99 L63.58,242.06 L64.43,242.40 L65.31,242.61 L66.21,242.60 L67.10,242.24 L67.99,242.09 L68.84,242.31 L69.65,242.55 L70.40,242.59 L71.35,242.45 L72.23,242.31 L73.08,242.06 L73.89,241.86 L74.68,241.72 L75.47,241.58 L76.27,241.46 L77.10,241.55 L77.87,241.39 L78.66,240.61 L79.46,240.06 L80.26,239.73 L81.06,239.30 L81.83,238.79 L82.57,238.21 L83.26,237.75 L83.90,237.40 L84.73,237.04 L85.45,236.75 L86.09,236.38 L86.70,235.90 L87.32,235.39 L88.00,235.02 L88.54,234.71 L89.09,234.21 L89.65,233.58 L90.21,232.91 L90.77,232.32 L91.34,231.58 L91.92,230.71 L92.50,230.01 L92.92,229.50 L93.35,228.84 L93.78,228.22 L94.22,227.60 L94.66,226.92 L95.09,226.18 L95.53,225.41 L95.98,224.65 L96.42,223.82 L96.86,222.92 L97.30,221.98 L97.59,221.35 L97.88,220.63 L98.17,219.89 L98.47,219.17 L98.77,218.42 L99.07,217.62 L99.37,216.86 L99.67,216.07 L99.97,215.23 L100.26,214.34 L100.56,213.46 L100.84,212.59 L101.13,211.71 L101.41,210.81 L101.68,209.87 L101.94,208.92 L102.20,207.98 L102.40,207.22 L102.60,206.46 L102.80,205.67 L102.99,204.86 L103.17,204.05 L103.36,203.22 L103.54,202.36 L103.72,201.51 L103.89,200.66 L104.06,199.80 L104.24,198.94 L104.41,198.07 L104.57,197.19 L104.74,196.31 L104.91,195.41 L105.07,194.51 L105.24,193.61 L105.40,192.71 L105.57,191.80 L105.73,190.90 L105.90,190.00 L106.05,189.16 L106.20,188.33 L106.35,187.50 L106.51,186.64 L106.66,185.79 L106.80,184.93 L106.95,184.07 L107.10,183.20 L107.25,182.33 L107.39,181.45 L107.54,180.57 L107.68,179.69 L107.83,178.80 L107.97,177.92 L108.11,177.03 L108.25,176.15 L108.39,175.27 L108.53,174.38 L108.67,173.49 L108.80,172.61 L108.94,171.74 L109.07,170.87 L109.20,170.00 L109.33,169.13 L109.46,168.26 L109.58,167.39 L109.70,166.52 L109.82,165.65 L109.94,164.78 L110.06,163.91 L110.18,163.04 L110.29,162.17 L110.40,161.31 L110.52,160.44 L110.63,159.57 L110.74,158.70 L110.86,157.83 L110.97,156.96 L111.08,156.09 L111.20,155.22 L111.31,154.35 L111.43,153.48 L111.54,152.61 L111.66,151.74 L111.78,150.87 L111.90,150.00 L112.02,149.13 L112.14,148.26 L112.26,147.38 L112.38,146.50 L112.50,145.63 L112.62,144.76 L112.74,143.88 L112.85,143.01 L112.97,142.13 L113.09,141.25 L113.21,140.38 L113.34,139.50 L113.46,138.63 L113.58,137.75 L113.71,136.87 L113.84,136.01 L113.97,135.15 L114.10,134.28 L114.23,133.41 L114.37,132.55 L114.51,131.70 L114.65,130.84 L114.80,130.00 L114.96,129.11 L115.12,128.20 L115.29,127.29 L115.47,126.36 L115.65,125.43 L115.84,124.49 L116.03,123.56 L116.22,122.63 L116.41,121.70 L116.60,120.76 L116.79,119.85 L116.99,118.94 L117.18,118.04 L117.36,117.17 L117.55,116.31 L117.73,115.46 L117.91,114.65 L118.08,113.87 L118.25,113.11 L118.41,112.38 L118.56,111.67 L118.70,110.99 L118.97,109.73 L119.21,108.59 L119.44,107.53 L119.65,106.56 L119.85,105.65 L120.04,104.82 L120.22,104.06 L120.40,103.33 L120.57,102.64 L120.73,101.99 L120.90,101.35 L121.26,100.26 L121.59,99.53 L121.90,98.94 L122.17,98.44 L122.40,97.98 L122.71,97.18 L123.00,96.41 L123.29,95.71 L123.64,94.91 L124.02,94.13 L124.40,93.45 L124.92,92.76 L125.47,92.57 L126.00,92.37 L126.78,91.69 L127.50,91.37 L128.06,91.93 L128.60,92.77 L128.94,93.40 L129.32,94.20 L129.69,95.05 L130.00,95.80 L130.31,96.48 L130.55,97.08 L130.80,97.99 L130.94,98.65 L131.07,99.42 L131.20,100.27 L131.34,101.17 L131.51,102.11 L131.70,103.09 L131.84,103.78 L131.98,104.39 L132.11,104.97 L132.26,105.62 L132.43,106.38 L132.66,107.31 L132.94,108.50 L133.30,110.02 L133.45,110.62 L133.60,111.26 L133.77,111.97 L133.95,112.70 L134.13,113.47 L134.33,114.28 L134.53,115.11 L134.74,115.98 L134.96,116.87 L135.18,117.77 L135.40,118.69 L135.63,119.64 L135.86,120.59 L136.09,121.55 L136.32,122.52 L136.55,123.49 L136.78,124.46 L137.01,125.43 L137.24,126.37 L137.46,127.30 L137.68,128.21 L137.89,129.10 L138.10,129.98 L138.30,130.86 L138.50,131.72 L138.70,132.59 L138.90,133.48 L139.09,134.36 L139.28,135.23 L139.47,136.10 L139.66,136.95 L139.85,137.82 L140.04,138.69 L140.24,139.56 L140.43,140.43 L140.62,141.31 L140.82,142.18 L141.01,143.04 L141.21,143.91 L141.41,144.78 L141.62,145.66 L141.83,146.54 L142.04,147.39 L142.25,148.25 L142.47,149.15 L142.70,150.03 L142.92,150.84 L143.15,151.67 L143.38,152.53 L143.62,153.41 L143.86,154.29 L144.10,155.17 L144.35,156.05 L144.60,156.92 L144.85,157.78 L145.10,158.68 L145.36,159.58 L145.61,160.47 L145.87,161.32 L146.13,162.17 L146.38,163.03 L146.64,163.87 L146.89,164.70 L147.14,165.50 L147.39,166.29 L147.64,167.05 L147.89,167.80 L148.13,168.55 L148.37,169.28 L148.60,169.98 L148.95,171.02 L149.31,172.04 L149.67,172.98 L150.04,173.89 L150.40,174.82 L150.77,175.75 L151.13,176.65 L151.48,177.46 L151.83,178.23 L152.16,178.99 L152.48,179.76 L152.78,180.49 L153.07,181.15 L153.34,181.79 L153.58,182.41 L153.80,183.02 L154.25,184.34 L154.54,185.33 L154.72,186.09 L154.86,186.73 L155.00,187.33 L155.20,187.98 L155.51,188.79 L155.83,189.55 L156.15,190.26 L156.48,190.96 L156.80,191.66 L157.11,192.34 L157.41,192.94 L157.72,193.54 L158.04,194.19 L158.40,194.98 L158.67,195.64 L158.96,196.31 L159.25,197.04 L159.56,197.80 L159.88,198.51 L160.23,199.23 L160.60,199.97 L161.00,200.71 L161.44,201.49 L161.89,202.29 L162.36,203.05 L162.84,203.76 L163.32,204.43 L163.80,205.02 L164.47,205.79 L165.15,206.34 L165.83,206.64 L166.52,207.16 L167.20,207.71 L167.88,208.05 L168.56,208.60 L169.25,209.42 L169.93,210.12 L170.60,210.66 L171.46,211.12 L172.33,211.41 L173.16,211.69 L173.90,211.91 L174.60,212.02 L175.17,212.23 L176.00,212.66 L176.56,212.92 L177.17,213.26 L177.85,213.61 L178.60,213.86 L179.45,214.22 L180.40,214.59 L181.13,214.70 L181.96,214.71 L182.87,214.75 L183.81,214.99 L184.76,215.15 L185.70,214.95 L186.59,214.84 L187.40,215.05 L188.10,215.15 L189.13,214.98 L189.97,214.90 L190.68,214.85 L191.30,214.53 L191.90,214.19 L192.55,213.67 L193.08,212.89 L193.58,212.18 L194.20,211.85 L194.95,211.90 L195.78,212.16 L196.67,212.43 L197.60,212.70 L198.38,212.82 L199.18,212.61 L200.02,212.35 L200.90,212.17 L201.80,211.99 L202.59,211.80 L203.41,211.63 L204.25,211.62 L205.10,211.56 L205.96,211.27 L206.80,210.98 L207.64,210.71 L208.50,210.59 L209.35,210.33 L210.19,209.93 L211.01,209.68 L211.80,209.22 L212.69,208.81 L213.53,208.57 L214.35,208.31 L215.17,208.29 L216.00,208.03 L216.84,207.64 L217.68,207.88 L218.52,208.48 L219.39,208.91 L220.30,209.11 L221.07,209.42 L221.85,209.82 L222.65,210.09 L223.48,210.34 L224.36,210.64 L225.30,211.17 L226.06,211.36 L226.86,210.94 L227.69,210.63 L228.54,210.93 L229.41,211.38 L230.29,211.57 L231.15,211.63 L232.00,211.58 L232.84,211.76 L233.67,212.29 L234.51,212.74 L235.34,212.91 L236.18,213.13 L237.02,213.60 L237.86,214.04 L238.70,214.36 L239.45,214.52 L240.22,214.70 L240.98,214.82 L241.75,214.94 L242.51,215.51 L243.27,216.08 L244.03,216.22 L244.77,216.23 L245.50,216.61 L246.21,217.23 L246.91,217.65 L247.59,218.09 L248.27,218.62 L248.94,219.10 L249.62,219.71 L250.30,220.29 L250.99,220.75 L251.70,221.25 L252.51,221.61 L253.34,221.90 L254.17,222.33 L255.01,222.69 L255.86,222.97 L256.71,223.09 L257.55,223.31 L258.40,223.69 L259.25,223.78 L260.10,223.90 L260.95,224.32 L261.80,224.58 L262.65,224.65 L263.50,224.85 L264.35,225.25 L265.20,225.55 L266.06,225.45 L266.94,225.39 L267.83,225.73 L268.71,226.14 L269.57,226.29 L270.40,226.46 L271.18,226.81 L271.90,226.96 L272.93,226.92 L273.84,226.82 L274.66,226.62 L275.41,226.44 L276.10,226.28 L277.06,225.90 L277.83,225.56 L278.60,225.46 L279.20,225.76 L279.79,226.37 L280.41,227.03 L281.10,227.60 L281.68,228.08 L282.28,228.74 L282.92,229.35 L283.65,229.68 L284.50,230.11 L285.20,230.37 L285.98,230.17 L286.81,230.02 L287.68,229.92 L288.58,230.02 L289.49,230.38 L290.40,230.44 L291.20,230.40 L292.02,230.72 L292.86,231.13 L293.71,231.37 L294.56,231.67 L295.41,232.05 L296.26,232.27 L297.10,232.53 L297.93,232.82 L298.75,233.01 L299.58,233.23 L300.40,233.65 L301.22,234.08 L302.05,234.12 L302.87,234.09 L303.70,234.07 L304.53,234.12 L305.37,234.37 L306.20,234.54 L307.04,234.65 L307.88,234.88 L308.72,235.25 L309.56,235.61 L310.40,235.65 L311.25,235.58 L312.10,235.81 L312.95,235.84 L313.80,235.54 L314.65,235.49 L315.50,235.85 L316.35,236.15 L317.20,236.05 L318.04,236.10 L318.88,236.33 L319.72,236.30 L320.56,236.33 L321.39,236.52 L322.23,236.39 L323.06,236.11 L323.90,236.36 L324.74,236.73 L325.57,236.87 L326.41,237.15 L327.25,237.31 L328.09,237.37 L328.93,237.34 L329.76,237.18 L330.60,237.25 L331.45,237.48 L332.31,237.86 L333.18,238.11 L334.05,238.01 L334.90,237.79 L335.74,237.65 L336.54,237.82 L337.30,238.03 L338.25,238.20 L339.15,238.52 L340.01,238.70 L340.83,238.63 L341.62,238.42 L342.40,238.25 L343.14,238.20 L343.84,237.82 L344.51,237.30 L345.17,237.00 L345.86,236.84 L346.60,236.88 L347.44,237.00 L348.39,237.29 L349.36,237.73 L350.27,237.95 L351.05,238.16 L351.60,238.43" fill="none" stroke="#F7A35C" stroke-width="1.25" stroke-linejoin="round" stroke-linecap="round"/>
<path d="M52.50,236.26 L52.85,236.71 L53.31,237.41 L53.86,238.19 L54.48,238.94 L55.12,239.78 L55.78,240.74 L56.41,241.55 L57.00,242.08 L57.69,242.62 L58.30,242.96 L58.92,243.08 L59.60,243.12 L60.40,242.91 L61.40,242.79 L62.05,242.92 L62.79,243.06 L63.58,243.34 L64.43,243.56 L65.31,243.52 L66.21,243.63 L67.10,243.86 L67.99,243.76 L68.84,243.35 L69.65,243.29 L70.40,243.39 L71.35,242.93 L72.23,242.41 L73.08,242.47 L73.89,242.62 L74.68,242.37 L75.47,242.17 L76.27,242.19 L77.10,241.97 L77.87,241.52 L78.66,241.27 L79.46,241.19 L80.26,240.93 L81.06,240.46 L81.83,240.03 L82.57,239.76 L83.26,239.58 L83.90,239.27 L84.73,238.75 L85.43,238.32 L86.06,237.90 L86.67,237.58 L87.30,237.18 L88.00,236.75 L88.57,236.55 L89.16,236.18 L89.76,235.52 L90.37,234.85 L91.00,234.27 L91.64,233.65 L92.31,232.90 L93.00,232.10 L93.44,231.56 L93.89,230.87 L94.35,230.16 L94.82,229.48 L95.30,228.69 L95.79,227.93 L96.28,227.30 L96.77,226.59 L97.26,225.71 L97.75,224.71 L98.24,223.74 L98.72,222.93 L99.20,222.10 L99.55,221.45 L99.90,220.76 L100.25,220.04 L100.61,219.33 L100.97,218.61 L101.34,217.84 L101.70,217.06 L102.06,216.31 L102.42,215.55 L102.77,214.74 L103.12,213.91 L103.46,213.10 L103.80,212.29 L104.12,211.48 L104.43,210.65 L104.74,209.78 L105.03,208.89 L105.30,208.00 L105.52,207.22 L105.73,206.42 L105.93,205.64 L106.13,204.85 L106.31,204.03 L106.48,203.20 L106.65,202.35 L106.81,201.51 L106.97,200.66 L107.12,199.80 L107.27,198.94 L107.42,198.06 L107.57,197.16 L107.71,196.28 L107.86,195.40 L108.01,194.50 L108.16,193.61 L108.31,192.70 L108.47,191.79 L108.63,190.89 L108.80,189.99 L108.96,189.16 L109.12,188.31 L109.29,187.43 L109.45,186.53 L109.62,185.60 L109.80,184.68 L109.97,183.74 L110.14,182.79 L110.32,181.84 L110.49,180.91 L110.66,179.97 L110.84,179.04 L111.01,178.11 L111.17,177.19 L111.34,176.30 L111.50,175.42 L111.66,174.56 L111.81,173.72 L111.96,172.91 L112.10,172.13 L112.24,171.39 L112.37,170.68 L112.50,170.01 L112.72,168.83 L112.92,167.76 L113.10,166.80 L113.26,165.92 L113.41,165.12 L113.55,164.38 L113.69,163.66 L113.82,162.96 L113.95,162.26 L114.09,161.54 L114.24,160.80 L114.40,160.00 L114.57,159.16 L114.73,158.31 L114.89,157.47 L115.05,156.61 L115.22,155.74 L115.38,154.89 L115.55,154.03 L115.73,153.19 L115.91,152.36 L116.10,151.56 L116.29,150.78 L116.50,150.01 L116.77,149.10 L117.06,148.21 L117.36,147.31 L117.68,146.40 L118.00,145.55 L118.32,144.75 L118.64,143.96 L118.94,143.15 L119.23,142.32 L119.50,141.57 L119.81,140.68 L120.10,139.75 L120.38,138.82 L120.64,137.93 L120.90,137.09 L121.14,136.36 L121.37,135.71 L121.60,135.17 L122.14,134.24 L122.62,133.73 L123.10,133.39 L123.60,132.77 L124.11,132.04 L124.60,131.42 L125.08,130.83 L125.55,130.16 L126.00,129.69 L126.62,129.47 L127.20,129.46 L127.75,129.42 L128.30,129.86 L128.69,130.54 L129.09,131.37 L129.50,132.21 L129.92,132.85 L130.35,133.47 L130.80,134.43 L131.02,135.03 L131.21,135.68 L131.42,136.43 L131.65,137.29 L131.94,138.30 L132.30,139.51 L132.49,140.12 L132.70,140.73 L132.91,141.34 L133.13,141.99 L133.36,142.70 L133.61,143.43 L133.87,144.19 L134.14,145.01 L134.42,145.91 L134.72,146.84 L135.03,147.83 L135.36,148.90 L135.70,150.03 L135.89,150.68 L136.10,151.37 L136.31,152.09 L136.53,152.86 L136.76,153.66 L136.99,154.50 L137.23,155.36 L137.47,156.26 L137.72,157.15 L137.97,158.04 L138.23,158.94 L138.48,159.83 L138.74,160.73 L138.99,161.67 L139.25,162.61 L139.50,163.54 L139.76,164.44 L140.01,165.30 L140.25,166.16 L140.49,166.99 L140.73,167.79 L140.96,168.57 L141.18,169.32 L141.40,170.02 L141.72,171.00 L142.04,171.97 L142.35,172.98 L142.67,173.96 L142.98,174.87 L143.29,175.75 L143.59,176.60 L143.88,177.44 L144.17,178.25 L144.45,179.00 L144.72,179.75 L144.98,180.47 L145.23,181.13 L145.47,181.77 L145.69,182.42 L145.90,182.99 L146.37,184.24 L146.72,185.17 L147.00,185.86 L147.26,186.45 L147.54,187.16 L147.90,188.05 L148.18,188.74 L148.49,189.48 L148.80,190.28 L149.13,191.08 L149.47,191.89 L149.81,192.72 L150.14,193.51 L150.48,194.27 L150.80,195.01 L151.21,195.87 L151.61,196.58 L152.02,197.24 L152.42,197.89 L152.82,198.53 L153.21,199.25 L153.60,200.03 L153.93,200.73 L154.26,201.48 L154.59,202.27 L154.91,203.07 L155.23,203.88 L155.55,204.66 L155.88,205.38 L156.20,206.12 L156.63,207.00 L157.06,207.75 L157.49,208.46 L157.92,209.17 L158.36,209.90 L158.80,210.64 L159.25,211.35 L159.70,211.98 L160.15,212.45 L160.61,212.88 L161.10,213.47 L161.60,214.16 L162.13,214.75 L162.67,215.29 L163.24,215.93 L163.81,216.55 L164.40,217.06 L165.00,217.68 L165.70,218.37 L166.40,218.81 L167.12,219.20 L167.91,219.38 L168.80,219.56 L169.51,219.88 L170.26,220.14 L171.05,220.23 L171.88,220.38 L172.75,220.78 L173.65,221.18 L174.60,221.46 L175.37,221.47 L176.18,221.29 L177.03,221.24 L177.89,221.34 L178.77,221.31 L179.66,221.41 L180.55,221.63 L181.43,221.56 L182.30,221.58 L183.18,221.63 L184.09,221.47 L185.03,221.36 L185.96,221.34 L186.87,221.31 L187.75,221.19 L188.58,221.01 L189.33,220.77 L190.00,220.50 L190.96,220.10 L191.67,219.69 L192.25,219.33 L192.80,218.94 L193.40,218.41 L194.23,218.02 L195.05,217.97 L195.87,218.19 L196.70,218.34 L197.51,218.34 L198.29,218.28 L199.14,218.18 L200.10,218.32 L200.84,218.31 L201.64,217.80 L202.49,217.35 L203.37,217.14 L204.24,216.97 L205.10,216.73 L205.95,216.28 L206.80,215.90 L207.65,215.71 L208.50,215.41 L209.35,215.20 L210.20,215.33 L211.05,215.22 L211.90,214.84 L212.76,214.66 L213.60,214.64 L214.41,214.49 L215.20,214.24 L216.09,214.12 L216.94,214.03 L217.76,213.84 L218.57,213.70 L219.40,213.67 L220.20,213.60 L220.96,213.53 L221.74,213.73 L222.60,214.16 L223.60,214.46 L224.32,214.22 L225.10,213.93 L225.93,214.35 L226.79,215.16 L227.67,215.71 L228.56,215.86 L229.44,215.82 L230.30,215.89 L231.15,216.25 L232.00,216.68 L232.85,216.71 L233.70,216.75 L234.55,217.15 L235.40,217.27 L236.25,217.14 L237.10,217.52 L237.95,218.16 L238.79,218.39 L239.64,218.46 L240.49,218.87 L241.33,219.39 L242.16,219.60 L242.99,219.74 L243.80,220.15 L244.63,220.65 L245.49,220.93 L246.36,221.30 L247.21,221.87 L248.03,222.01 L248.78,221.99 L249.44,222.12 L250.00,222.20 L250.82,222.62 L251.70,223.33 L252.30,223.81 L253.02,223.97 L253.84,224.20 L254.73,224.59 L255.66,224.86 L256.60,225.21 L257.52,225.72 L258.40,226.12 L259.25,226.43 L260.10,226.50 L260.95,226.38 L261.80,226.49 L262.65,226.72 L263.50,226.97 L264.35,227.25 L265.20,227.35 L266.06,227.59 L266.96,228.12 L267.86,228.40 L268.76,228.31 L269.63,228.27 L270.46,228.43 L271.22,228.61 L271.90,228.73 L272.98,229.08 L273.81,229.50 L274.53,229.75 L275.30,229.63 L275.96,229.29 L276.62,229.04 L277.28,228.75 L277.94,228.28 L278.60,228.20 L279.28,228.61 L279.96,228.83 L280.64,229.24 L281.32,229.85 L282.00,230.26 L282.64,230.68 L283.24,231.16 L283.86,231.34 L284.53,231.55 L285.30,232.08 L286.03,232.24 L286.81,232.03 L287.64,232.18 L288.51,232.47 L289.44,232.54 L290.40,232.57 L291.16,232.51 L291.96,232.47 L292.80,232.58 L293.66,232.80 L294.52,232.80 L295.39,232.56 L296.26,232.75 L297.10,233.32 L297.93,233.60 L298.75,233.60 L299.58,233.62 L300.40,233.58 L301.22,233.68 L302.05,234.01 L302.87,234.17 L303.70,234.12 L304.53,234.18 L305.37,234.45 L306.20,234.64 L307.04,234.72 L307.88,234.82 L308.72,234.98 L309.56,235.21 L310.40,235.48 L311.25,235.78 L312.10,235.81 L312.95,235.53 L313.80,235.47 L314.65,235.67 L315.50,235.90 L316.35,236.00 L317.20,235.86 L318.04,236.05 L318.88,236.44 L319.72,236.50 L320.56,236.59 L321.39,236.64 L322.23,236.65 L323.06,236.74 L323.90,236.71 L324.74,236.97 L325.57,237.35 L326.41,237.34 L327.25,237.24 L328.09,237.36 L328.93,237.57 L329.76,237.51 L330.60,237.46 L331.45,237.55 L332.31,237.54 L333.18,237.59 L334.05,237.79 L334.90,237.94 L335.74,237.97 L336.54,237.91 L337.30,237.94 L338.25,238.16 L339.15,238.29 L340.01,238.33 L340.83,238.46 L341.62,238.62 L342.40,238.71 L343.14,238.51 L343.84,238.14 L344.51,237.69 L345.17,237.27 L345.86,237.09 L346.60,236.91 L347.44,236.88 L348.39,237.12 L349.36,237.55 L350.27,238.13 L351.05,238.34 L351.60,238.30" fill="none" stroke="#FCE562" stroke-width="1.25" stroke-linejoin="round" stroke-linecap="round"/>
<line x1="30.1" y1="0.62" x2="30.1" y2="270.675" stroke="#1c1c1c" stroke-width="1.15"/>
<line x1="351.9" y1="0.62" x2="351.9" y2="270.675" stroke="#1c1c1c" stroke-width="1.15"/>
<line x1="29.525000000000002" y1="0.62" x2="352.47499999999997" y2="0.62" stroke="#1c1c1c" stroke-width="1.3"/>
<line x1="29.525000000000002" y1="270.1" x2="352.47499999999997" y2="270.1" stroke="#1c1c1c" stroke-width="1.15"/>
<line x1="30.10" y1="270.1" x2="30.10" y2="275.40000000000003" stroke="#1c1c1c" stroke-width="1.1"/>
<line x1="53.09" y1="270.1" x2="53.09" y2="272.70000000000005" stroke="#1c1c1c" stroke-width="1.1"/>
<line x1="76.07" y1="270.1" x2="76.07" y2="275.40000000000003" stroke="#1c1c1c" stroke-width="1.1"/>
<line x1="99.06" y1="270.1" x2="99.06" y2="272.70000000000005" stroke="#1c1c1c" stroke-width="1.1"/>
<line x1="122.04" y1="270.1" x2="122.04" y2="275.40000000000003" stroke="#1c1c1c" stroke-width="1.1"/>
<line x1="145.03" y1="270.1" x2="145.03" y2="272.70000000000005" stroke="#1c1c1c" stroke-width="1.1"/>
<line x1="168.01" y1="270.1" x2="168.01" y2="275.40000000000003" stroke="#1c1c1c" stroke-width="1.1"/>
<line x1="191.00" y1="270.1" x2="191.00" y2="272.70000000000005" stroke="#1c1c1c" stroke-width="1.1"/>
<line x1="213.99" y1="270.1" x2="213.99" y2="275.40000000000003" stroke="#1c1c1c" stroke-width="1.1"/>
<line x1="236.97" y1="270.1" x2="236.97" y2="272.70000000000005" stroke="#1c1c1c" stroke-width="1.1"/>
<line x1="259.96" y1="270.1" x2="259.96" y2="275.40000000000003" stroke="#1c1c1c" stroke-width="1.1"/>
<line x1="282.94" y1="270.1" x2="282.94" y2="272.70000000000005" stroke="#1c1c1c" stroke-width="1.1"/>
<line x1="305.93" y1="270.1" x2="305.93" y2="275.40000000000003" stroke="#1c1c1c" stroke-width="1.1"/>
<line x1="328.91" y1="270.1" x2="328.91" y2="272.70000000000005" stroke="#1c1c1c" stroke-width="1.1"/>
<line x1="351.90" y1="270.1" x2="351.90" y2="275.40000000000003" stroke="#1c1c1c" stroke-width="1.1"/>

<text transform="translate(30.10,288) scale(1.0,1.1)" text-anchor="middle" font-size="11" fill="#000000" stroke="#000000" stroke-width="0.2">0</text>
<text transform="translate(76.07,288) scale(1.0,1.1)" text-anchor="middle" font-size="11" fill="#000000" stroke="#000000" stroke-width="0.2">10</text>
<text transform="translate(122.04,288) scale(1.0,1.1)" text-anchor="middle" font-size="11" fill="#000000" stroke="#000000" stroke-width="0.2">20</text>
<text transform="translate(168.01,288) scale(1.0,1.1)" text-anchor="middle" font-size="11" fill="#000000" stroke="#000000" stroke-width="0.2">30</text>
<text transform="translate(213.99,288) scale(1.0,1.1)" text-anchor="middle" font-size="11" fill="#000000" stroke="#000000" stroke-width="0.2">40</text>
<text transform="translate(259.96,288) scale(1.0,1.1)" text-anchor="middle" font-size="11" fill="#000000" stroke="#000000" stroke-width="0.2">50</text>
<text transform="translate(305.93,288) scale(1.0,1.1)" text-anchor="middle" font-size="11" fill="#000000" stroke="#000000" stroke-width="0.2">60</text>
<text transform="translate(351.90,288) scale(1.0,1.1)" text-anchor="middle" font-size="11" fill="#000000" stroke="#000000" stroke-width="0.2">70</text>

<rect x="213.5" y="15.5" width="123" height="85" fill="#ffffff" stroke="#e0e0e0" stroke-width="1"/>
<line x1="214.5" y1="23.80" x2="239.7" y2="23.80" stroke="#757DC6" stroke-width="1.0"/>
<text transform="translate(242.7,28.25) scale(1.0,1.1)" font-size="11.0" fill="#000000" stroke="#000000" stroke-width="0.2">Original powder</text>
<line x1="214.5" y1="37.60" x2="239.7" y2="37.60" stroke="#8CD3F2" stroke-width="1.0"/>
<text transform="translate(242.7,42.05) scale(1.0,1.1)" font-size="11.0" fill="#000000" stroke="#000000" stroke-width="0.2">SLS part(3000mm/s)</text>
<line x1="214.5" y1="51.40" x2="239.7" y2="51.40" stroke="#EE8FB3" stroke-width="1.0"/>
<text transform="translate(242.7,55.85) scale(1.0,1.1)" font-size="11.0" fill="#000000" stroke="#000000" stroke-width="0.2">SLS part(3250mm/s)</text>
<line x1="214.5" y1="65.20" x2="239.7" y2="65.20" stroke="#9CCF83" stroke-width="1.0"/>
<text transform="translate(242.7,69.65) scale(1.0,1.1)" font-size="11.0" fill="#000000" stroke="#000000" stroke-width="0.2">SLS part(3500mm/s)</text>
<line x1="214.5" y1="79.00" x2="239.7" y2="79.00" stroke="#F7A35C" stroke-width="1.0"/>
<text transform="translate(242.7,83.45) scale(1.0,1.1)" font-size="11.0" fill="#000000" stroke="#000000" stroke-width="0.2">SLS part(3750mm/s)</text>
<line x1="214.5" y1="92.80" x2="239.7" y2="92.80" stroke="#FCE562" stroke-width="1.0"/>
<text transform="translate(242.7,97.25) scale(1.0,1.1)" font-size="11.0" fill="#000000" stroke="#000000" stroke-width="0.2">SLS part(4000mm/s)</text>

<text x="171.6" y="309.8" font-size="14" font-weight="bold" fill="#000000" stroke="#000000" stroke-width="0.2" text-anchor="start">2θ (</text>
<circle cx="196.4" cy="301.6" r="1.75" fill="none" stroke="#000000" stroke-width="1.1"/>
<text x="206.2" y="309.8" font-size="14" font-weight="bold" fill="#000000" stroke="#000000" stroke-width="0.2" text-anchor="start">)</text>
<text transform="translate(10.0,131.2) rotate(-90) scale(0.977,1)" font-size="14" font-weight="bold" fill="#000000" stroke="#000000" stroke-width="0.2" text-anchor="middle">Intensity (a.u.)</text>
</svg>
</body></html>
